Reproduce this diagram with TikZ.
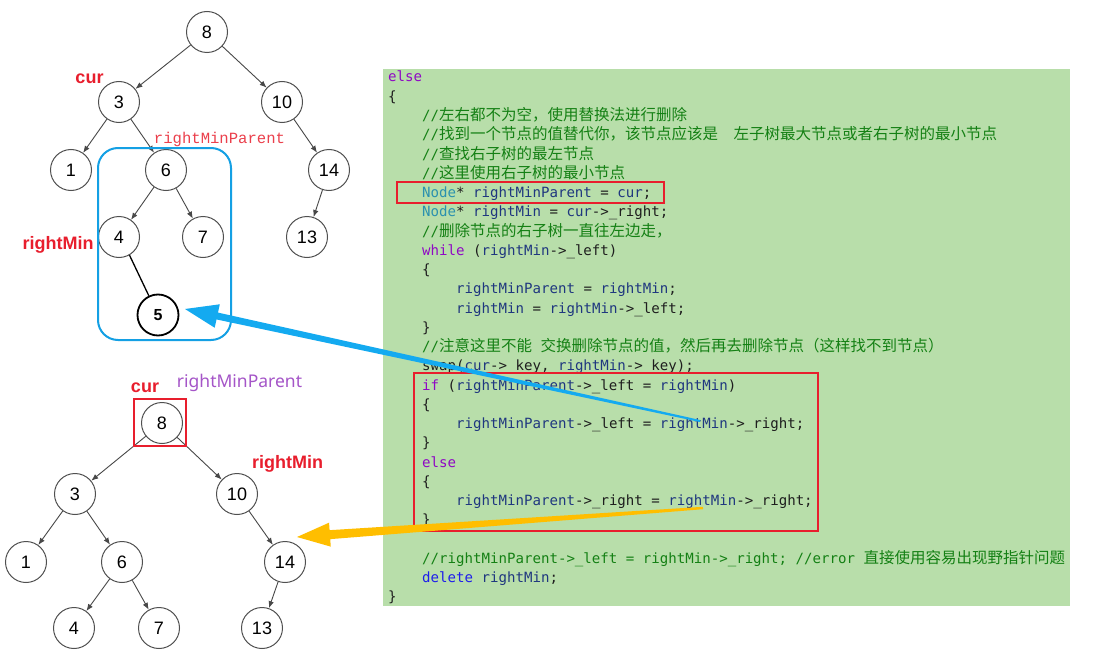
\documentclass[tikz,border=0pt]{standalone}
\usepackage{fontspec}
\setmainfont{Liberation Sans}
\setmonofont{DejaVu Sans Mono}
\newfontfamily\cjkfont{Noto Sans CJK SC}
\newfontfamily\labelfont{Noto Sans}
\newfontfamily\simfont{Liberation Mono}
\usetikzlibrary{arrows.meta, calc}

\definecolor{codebg}{RGB}{184,222,170}
\definecolor{kwpurple}{RGB}{143,8,196}
\definecolor{delblue}{RGB}{30,30,235}
\definecolor{typeteal}{RGB}{43,145,175}
\definecolor{cmtgreen}{RGB}{20,128,20}
\definecolor{identblue}{RGB}{31,55,127}
\definecolor{codeink}{RGB}{30,30,30}
\definecolor{markred}{RGB}{232,30,45}
\definecolor{hintpurple}{RGB}{165,85,200}
\definecolor{boxblue}{RGB}{20,160,228}
\definecolor{arrowblue}{RGB}{20,170,240}
\definecolor{arroworange}{RGB}{255,190,0}
\definecolor{nodegray}{RGB}{80,80,80}

\newcommand{\hanzi}[1]{{\cjkfont\fontsize{15.5}{18}\selectfont #1}}
\newcommand{\kwd}[1]{\textcolor{kwpurple}{#1}}
\newcommand{\tyname}[1]{\textcolor{typeteal}{#1}}
\newcommand{\ident}[1]{\textcolor{identblue}{#1}}

% fleche effilee : queue, pointe, couleur, demi-largeur queue, demi-largeur base
\newcommand{\fatarrow}[5]{%
  \coordinate (fa-base) at ($(#2)!33pt!(#1)$);
  \fill[#3]
    ($(#1)!#4!90:(#2)$) --
    ($(fa-base)!#5!90:(#2)$) --
    ($(fa-base)!12pt!90:(#2)$) --
    (#2) --
    ($(fa-base)!12pt!-90:(#2)$) --
    ($(fa-base)!#5!-90:(#2)$) --
    ($(#1)!#4!-90:(#2)$) -- cycle;
}

\tikzset{
    treenode/.style={
        circle, draw=nodegray, line width=1pt, minimum size=41pt,
        inner sep=0pt, font=\fontsize{18}{20}\selectfont
    },
    edge/.style={
        -{Latex[length=7pt,width=5.5pt]}, draw=nodegray!90!black, line width=0.9pt
    },
    code/.style={
        anchor=base west, inner sep=0pt, text=codeink,
        font=\ttfamily\fontsize{14.1}{18}\selectfont
    },
    hint/.style={
        inner sep=0pt, text=markred,
        font=\bfseries\fontsize{18}{20}\selectfont
    },
    redbox/.style={draw=markred, line width=2pt}
}

\begin{document}
\begin{tikzpicture}[x=1pt, y=-1pt]
    \useasboundingbox[fill=white] (0,0) rectangle (1110,666);

    % Arbre du haut
    \node[treenode] (t8) at (207,32) {8};
    \node[treenode] (t3) at (119,102) {3};
    \node[treenode] (t10) at (282,102) {10};
    \node[treenode] (t1) at (71,170) {1};
    \node[treenode] (t6) at (166,170) {6};
    \node[treenode] (t14) at (329,170) {14};
    \node[treenode] (t4) at (119,237) {4};
    \node[treenode] (t7) at (203,237) {7};
    \node[treenode] (t13) at (307,237) {13};
    \node[treenode, draw=black, line width=1.8pt,
        font=\bfseries\fontsize{16}{18}\selectfont] (t5) at (158,315) {5};

    \draw[edge] (t8) -- (t3);
    \draw[edge] (t8) -- (t10);
    \draw[edge] (t3) -- (t1);
    \draw[edge] (t3) -- (t6);
    \draw[edge] (t10) -- (t14);
    \draw[edge] (t6) -- (t4);
    \draw[edge] (t6) -- (t7);
    \draw[edge] (t14) -- (t13);
    \draw[black, line width=1.3pt] (t4.-60) -- (t5);

    \draw[boxblue, line width=2pt, rounded corners=20pt] (98,148) rectangle (231,340);

    \node[hint] (cur1) at (89.5,79) {cur};
    \node[hint] (rmin1) at (58,245) {rightMin};
    \node[hint, font=\simfont\fontsize{15.6}{18}\selectfont, text=markred!85!white]
        (rpar1) at (219.5,139) {rightMinParent};

    % Arbre du bas
    \node[treenode] (b8) at (162,423) {8};
    \node[treenode] (b3) at (75,494) {3};
    \node[treenode] (b10) at (237,494) {10};
    \node[treenode] (b1) at (26,562) {1};
    \node[treenode] (b6) at (122,562) {6};
    \node[treenode] (b14) at (285,562) {14};
    \node[treenode] (b4) at (74,628) {4};
    \node[treenode] (b7) at (159,628) {7};
    \node[treenode] (b13) at (262,628) {13};

    \draw[edge] (b8) -- (b3);
    \draw[edge] (b8) -- (b10);
    \draw[edge] (b3) -- (b1);
    \draw[edge] (b3) -- (b6);
    \draw[edge] (b10) -- (b14);
    \draw[edge] (b6) -- (b4);
    \draw[edge] (b6) -- (b7);
    \draw[edge] (b14) -- (b13);

    \draw[redbox] ($(b8)+(-28,-24)$) rectangle ($(b8)+(24,23)$);

    \node[hint] (cur2) at (145,387.5) {cur};
    \node[hint, font=\labelfont\fontsize{17.5}{20}\selectfont, text=hintpurple]
        (rpar2) at (239.5,382.5) {rightMinParent};
    \node[hint] (rmin2) at (287.5,464) {rightMin};

    % Code
    \fill[codebg] (383,69) rectangle (1070,606);

    \node[code] (c0) at (388,82) {\kwd{else}};
    \node[code] (c1) at (388,101.25) {\{};
    \node[code, text=cmtgreen] (c2) at (422,120.5) {//\hanzi{左右都不为空，使用替换法进行删除}};
    \node[code, text=cmtgreen] (c3) at (422,139.75)
        {//\hanzi{找到一个节点的值替代你，该节点应该是　}\hanzi{左子树最大节点或者右子树的最小节点}};
    \node[code, text=cmtgreen] (c4) at (422,159) {//\hanzi{查找右子树的最左节点}};
    \node[code, text=cmtgreen] (c5) at (422,178.25) {//\hanzi{这里使用右子树的最小节点}};
    \node[code] (c6) at (422,197.5) {\tyname{Node}* \ident{rightMinParent} = \ident{cur};};
    \node[code] (c7) at (422,216.75) {\tyname{Node}* \ident{rightMin} = \ident{cur}->\_right;};
    \node[code, text=cmtgreen] (c8) at (422,236) {//\hanzi{删除节点的右子树一直往左边走，}};
    \node[code] (c9) at (422,255.25) {\kwd{while} (\ident{rightMin}->\_left)};
    \node[code] (c10) at (422,274.5) {\{};
    \node[code] (c11) at (456,293.75) {\ident{rightMinParent} = \ident{rightMin};};
    \node[code] (c12) at (456,313) {\ident{rightMin} = \ident{rightMin}->\_left;};
    \node[code] (c13) at (422,332.25) {\}};
    \node[code, text=cmtgreen] (c14) at (422,351.5)
        {//\hanzi{注意这里不能} \hanzi{交换删除节点的值，然后再去删除节点（这样找不到节点）}};
    \node[code] (c15) at (422,370.75) {swap(\ident{cur}-> key, \ident{rightMin}-> key);};
    \node[code] (c16) at (422,390) {\kwd{if} (\ident{rightMinParent}->\_left = \ident{rightMin})};
    \node[code] (c17) at (422,409.25) {\{};
    \node[code] (c18) at (456,428.5) {\ident{rightMinParent}->\_left = \ident{rightMin}->\_right;};
    \node[code] (c19) at (422,447.75) {\}};
    \node[code] (c20) at (422,467) {\kwd{else}};
    \node[code] (c21) at (422,486.25) {\{};
    \node[code] (c22) at (456,505.5) {\ident{rightMinParent}->\_right = \ident{rightMin}->\_right;};
    \node[code] (c23) at (422,524.75) {\}};
    \node[code, text=cmtgreen] (c25) at (422,563.25)
        {//rightMinParent->\_left = rightMin->\_right; //error \hanzi{直接使用容易出现野指针问题}};
    \node[code] (c26) at (422,582.5) {\textcolor{delblue}{delete} \ident{rightMin};};
    \node[code] (c27) at (388,601.75) {\}};

    \draw[redbox] (397,182) rectangle (664,203);
    \draw[redbox] (414,373) rectangle (818,531);

    % Fleches
    \coordinate (blue-tail) at (700,421);
    \coordinate (blue-tip) at (185,309);
    \coordinate (orange-tail) at (703,508);
    \coordinate (orange-tip) at (297,537);

    \fatarrow{blue-tail}{blue-tip}{arrowblue}{1pt}{3.5pt}
    \fatarrow{orange-tail}{orange-tip}{arroworange}{1.2pt}{4.5pt}

\end{tikzpicture}
\end{document}
